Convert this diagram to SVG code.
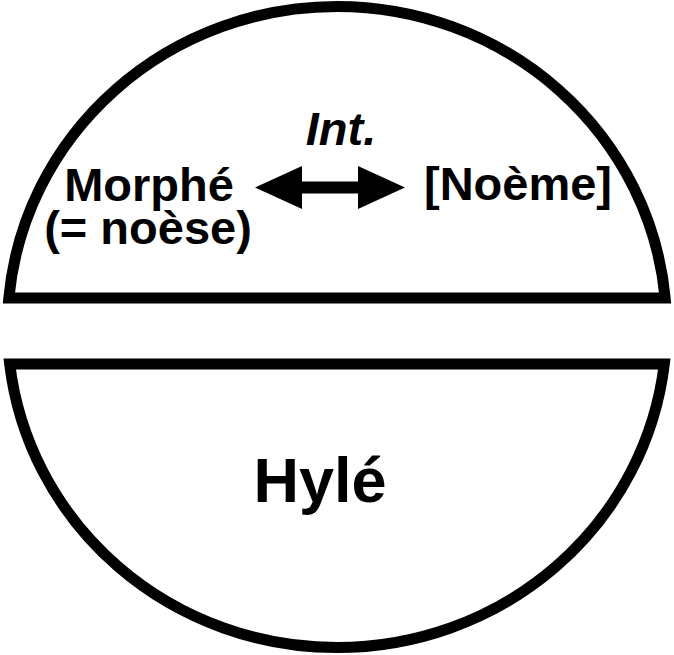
<svg xmlns="http://www.w3.org/2000/svg" width="674" height="655" viewBox="0 0 674 655">
<style>
.shape{fill:none;stroke:#000;stroke-width:11;stroke-linejoin:miter}
.t{font-family:"Liberation Sans",Arial,sans-serif;font-weight:bold;fill:#000;text-anchor:middle}
</style>
<rect width="674" height="655" fill="#fff"/>
<g id="morphe-half">
<path class="shape" d="M 8.85 298 A 329.5 320.5 0 0 1 665.15 298 Z"/>
<text class="t" x="149" y="201" font-size="47">Morphé</text>
<text class="t" x="148" y="244" font-size="47">(= noèse)</text>
<text class="t" x="518" y="200" font-size="47">[Noème]</text>
<text class="t" x="341" y="145" font-size="47" font-style="italic">Int.</text>
</g>
<g id="hyle-half">
<path class="shape" d="M 9.7 364 L 664.3 364 A 329.5 320.5 0 0 1 9.7 364 Z"/>
<text class="t" x="320" y="502" font-size="63">Hylé</text>
</g>
<g id="connectors">
<polygon fill="#000" points="255,187.5 302,166 302,181.5 358,181.5 358,166 405,187.5 358,209 358,193.5 302,193.5 302,209"/>
</g>
</svg>
